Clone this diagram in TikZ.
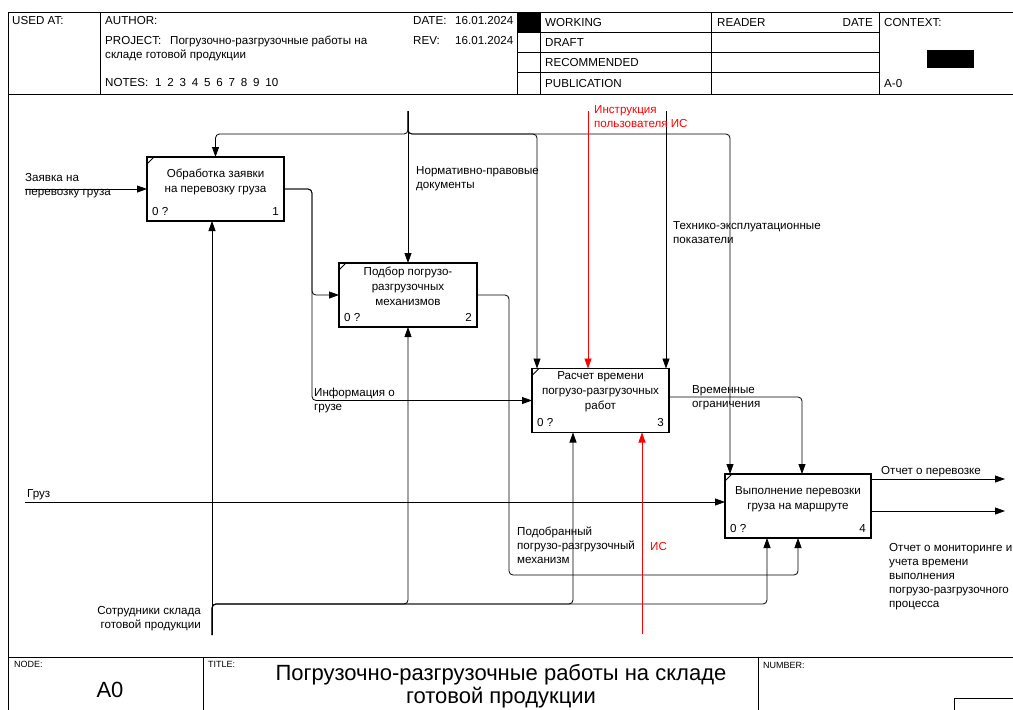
\documentclass[tikz,border=0pt]{standalone}
\usepackage{fontspec}
\setmainfont{Liberation Sans}
\usetikzlibrary{arrows.meta}
\newcommand*{\pgw}{1013}
\newcommand*{\pgh}{710}
\newcommand*{\hdb}{94}
\newcommand*{\ftt}{657}
\newcommand*{\gap}{\hspace{5.8pt}}
\tikzset{
  box/.style={draw, line width=1.6pt, minimum width=#1, minimum height=64pt, inner sep=0pt, outer sep=0pt},
  box/.default=137pt,
  boxtext/.style={align=center, inner sep=0pt, anchor=base, font=\fontsize{11.6}{15}\selectfont},
  lbl/.style={align=left, inner sep=0pt, anchor=base west, font=\fontsize{11.6}{14}\selectfont},
  tiny/.style={inner sep=0pt, anchor=base west, font=\fontsize{9}{11}\selectfont},
  big/.style={inner sep=0pt, anchor=base, align=center, font=\fontsize{22}{23}\selectfont},
  arr/.style={line width=0.8pt, rounded corners=4pt, -{Triangle[length=10pt,width=7pt]}},
  frm/.style={line width=0.8pt},
}

\begin{document}
\begin{tikzpicture}[x=1pt, y=-1pt]
    \useasboundingbox (0,0) rectangle (\pgw,\pgh);
    % frame and header
    \draw[frm] (8,\pgh) -- (8,12) -- (\pgw,12);
    \draw[frm] (8,\hdb) -- (\pgw,\hdb);
    \foreach \x in {100,517,540,711,879} \draw[frm] (\x,12) -- (\x,\hdb);
    \foreach \y in {32,52,72} \draw[frm] (517,\y) -- (879,\y);
    \fill (517,12) rectangle (540,32);
    \fill (927,50) rectangle (974,68);
    \node[lbl] (usedat)  at (12,24)  {USED AT:};
    \node[lbl] (author)  at (105,24) {AUTHOR:};
    \node[lbl] (project) at (105,44) {PROJECT:};
    \node[lbl] (projtx)  at (170,44) {Погрузочно-разгрузочные работы на};
    \node[lbl] (projtx2) at (105,58) {складе готовой продукции};
    \node[lbl] (notes)   at (105,86) {NOTES:};
    \node[lbl] (notesnr) at (155,86) {1\gap2\gap3\gap4\gap5\gap6\gap7\gap8\gap9\gap10};
    \node[lbl] (date)    at (413,24) {DATE:};
    \node[lbl] (dateval) at (455,24) {16.01.2024};
    \node[lbl] (rev)     at (413,44) {REV:};
    \node[lbl] (revval)  at (455,44) {16.01.2024};
    \node[lbl] (working) at (545,26) {WORKING};
    \node[lbl] (draft)   at (545,46) {DRAFT};
    \node[lbl] (recomm)  at (545,66) {RECOMMENDED};
    \node[lbl] (public)  at (545,87) {PUBLICATION};
    \node[lbl] (reader)  at (717,26) {READER};
    \node[lbl, anchor=base east] (rdate) at (873,26) {DATE};
    \node[lbl] (context) at (884,26) {CONTEXT:};
    \node[lbl] (ctxnode) at (884,87) {A-0};

    % footer
    \draw[frm] (8,\ftt) -- (\pgw,\ftt);
    \draw[frm] (203,\ftt) -- (203,\pgh);
    \draw[frm] (758,\ftt) -- (758,\pgh);
    \draw[frm] (954,698) rectangle (1016,714);
    \node[tiny] (lnode)   at (14,667)  {NODE:};
    \node[tiny] (ltitle)  at (208,667) {TITLE:};
    \node[tiny] (lnumber) at (763,668) {NUMBER:};
    \node[big] (nodeid) at (110,697) {A0};
    \node[big] (title)  at (501,703) {Погрузочно-разгрузочные работы на складе\\готовой продукции};

    % activities
    \node[box]        (b1) at (215.5,189) {};
    \node[box=138pt]  (b2) at (408,295)   {};
    \node[box]        (b3) at (600.5,400.5) {};
    \node[box=146pt]  (b4) at (798,506)   {};
    \node[boxtext] (t1) at ([yshift=-35pt]b1.north) {Обработка заявки\\на перевозку груза};
    \node[boxtext] (t2) at ([yshift=-42pt]b2.north) {Подбор погрузо-\\разгрузочных\\механизмов};
    \node[boxtext] (t3) at ([yshift=-41pt]b3.north) {Расчет времени\\погрузо-разгрузочных\\работ};
    \node[boxtext] (t4) at ([yshift=-35pt]b4.north) {Выполнение перевозки\\груза на маршруте};
    \foreach \b/\n in {b1/1,b2/2,b3/3,b4/4} {
        \draw[line width=1pt] (\b.north west) ++(0,7) -- ++(7,-7);
        \node[lbl] (\b-zero) at ([xshift=5pt,yshift=6pt]\b.south west) {0 ?};
        \node[lbl, anchor=base east] (\b-nr) at ([xshift=-5pt,yshift=6pt]\b.south east) {\n};
    }

    % arrows
    \coordinate (ctltop) at (408,111);
    \coordinate (ctlbus) at (408,134);
    \coordinate (instr)  at (588,111);
    \coordinate (tech)   at (666,111);
    \coordinate (zayav)  at (25,189);
    \coordinate (gruz)   at (25,502);
    \coordinate (mech)   at (212,635);
    \coordinate (mbus)   at (212,604);
    \coordinate (sis)    at (642,634);
    \coordinate (o1)     at (312,189);
    \coordinate (o2)     at (509,575);
    \coordinate (out1)   at (1005,479);
    \coordinate (out2)   at (1005,511);

    \draw[arr] (zayav) -- (b1.west);
    \draw[arr] (gruz) -- (gruz -| b4.west);
    \draw[arr] (ctltop) -- (b2.north);
    \draw[arr] (ctltop) -- (ctlbus) -| (b1.north);
    \draw[arr] (ctltop) -- (ctlbus) -| ([xshift=5pt]b3.north west);
    \draw[arr] (ctltop) -- (ctlbus) -| ([xshift=5pt]b4.north west);
    \draw[arr, red] (instr) -- (instr |- b3.north);
    \draw[arr] (tech) -- (tech |- b3.north);
    \draw[arr] (b1.east) -- (o1) |- (b2.west);
    \draw[arr] (b1.east) -- (o1) |- (b3.west);
    \draw[arr] (b2.east) -| (o2) -| (b4.south);
    \draw[arr] ([yshift=3.5pt]b3.east) -| ([xshift=4pt]b4.north);
    \draw[arr] (mech) -- (mech |- b1.south);
    \draw[arr] (mech) -- (mbus) -| (b2.south);
    \draw[arr] (mech) -- (mbus) -| ([xshift=41pt]b3.south west);
    \draw[arr] (mech) -- (mbus) -| ([xshift=42pt]b4.south west);
    \draw[arr, red] (sis) -- (sis |- b3.south);
    \draw[arr] ([yshift=-5pt]b4.north east) -- (out1);
    \draw[arr] ([yshift=-5pt]b4.east) -- (out2);

    % arrow labels (base = last line)
    \node[lbl] (lzayav) at (25,195)  {Заявка на\\перевозку груза};
    \node[lbl] (lnorm)  at (416,188) {Нормативно-правовые\\документы};
    \node[lbl, text=red] (linstr) at (594,127) {Инструкция\\пользователя ИС};
    \node[lbl] (ltech)  at (673,243) {Технико-эксплуатационные\\показатели};
    \node[lbl] (linfo)  at (314,410) {Информация о\\грузе};
    \node[lbl] (lvrem)  at (692,407) {Временные\\ограничения};
    \node[lbl] (lpodob) at (517,563) {Подобранный\\погрузо-разгрузочный\\механизм};
    \node[lbl, text=red] (lis) at (650,550) {ИС};
    \node[lbl] (lgruz)  at (27,497)  {Груз};
    \node[lbl, anchor=base east, align=right] (lsotr) at (201,628) {Сотрудники склада\\готовой продукции};
    \node[lbl] (lotch1) at (881,474) {Отчет о перевозке};
    \node[lbl] (lotch2) at (889,607) {Отчет о мониторинге и\\учета времени\\выполнения\\погрузо-разгрузочного\\процесса};
\end{tikzpicture}
\end{document}
